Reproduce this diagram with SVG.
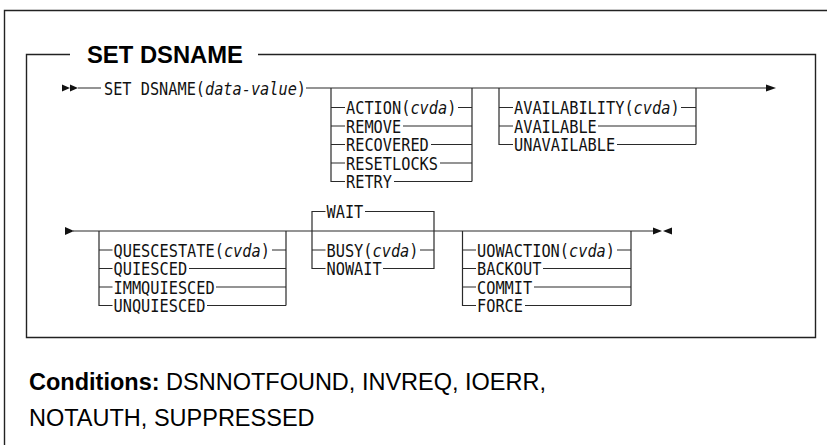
<svg xmlns="http://www.w3.org/2000/svg" width="827" height="445" viewBox="0 0 827 445">
<style>
.frame{fill:none;stroke:#222;stroke-width:1.4}
.ln{fill:none;stroke:#2a2a2a;stroke-width:1.2}
.rr{font-family:"DejaVu Sans Mono","Liberation Mono",monospace;font-size:17.5px;fill:#111}
.it{font-style:italic}
.ah{fill:#111}
.title{font-family:"Liberation Sans",Arial,sans-serif;font-weight:bold;font-size:23px;fill:#000}
.cond{font-family:"Liberation Sans",Arial,sans-serif;font-size:23.5px;fill:#000}
</style>
<rect width="827" height="445" fill="#fff"/>
<path class="frame" d="M4.5,445 V10.5 H827"/>
<g id="box">
<path class="frame" d="M70,54.5 H26.5 V337.5 H815.5 V54.5 H258"/>
<text class="title" x="87" y="63" textLength="156" lengthAdjust="spacingAndGlyphs">SET DSNAME</text>
</g>
<g id="connectors">
<polygon class="ah" points="62,84.5 70,88 62,91.5"/>
<polygon class="ah" points="70,84.5 78,88 70,91.5"/>
<path class="ln" d="M78,88 H101 M306,88 H767"/>
<polygon class="ah" points="766,84.5 776,88 766,91.5"/>
<polygon class="ah" points="65,227 74,231 65,235"/>
<path class="ln" d="M73,231 H653"/>
<polygon class="ah" points="653,227.5 662,231 653,234.5"/>
<polygon class="ah" points="672,227.5 663,231 672,234.5"/>
</g>
<g id="set">
<text class="rr" x="104" y="94.5" textLength="202" lengthAdjust="spacingAndGlyphs">SET DSNAME(<tspan class="it">data-value</tspan>)</text>
</g>
<g id="action">
<path class="ln" d="M331,88 V181.5 H345 M331,107.5 H345 M331,126 H345 M331,144.5 H345 M331,163 H345 M472,88 V181.5 M458,107.5 H472 M403,126 H472 M431,144.5 H472 M440,163 H472 M394,181.5 H472"/>
<text class="rr" x="346" y="114" textLength="110.4" lengthAdjust="spacingAndGlyphs">ACTION(<tspan class="it">cvda</tspan>)</text>
<text class="rr" x="346" y="132.5" textLength="55.2" lengthAdjust="spacingAndGlyphs">REMOVE</text>
<text class="rr" x="346" y="151" textLength="82.8" lengthAdjust="spacingAndGlyphs">RECOVERED</text>
<text class="rr" x="346" y="169.5" textLength="92" lengthAdjust="spacingAndGlyphs">RESETLOCKS</text>
<text class="rr" x="346" y="188" textLength="46" lengthAdjust="spacingAndGlyphs">RETRY</text>
</g>
<g id="availability">
<path class="ln" d="M499,88 V144.5 H513 M499,107.5 H513 M499,126 H513 M696,88 V144.5 M681,107.5 H696 M598,126 H696 M617,144.5 H696"/>
<text class="rr" x="514" y="114" textLength="165.6" lengthAdjust="spacingAndGlyphs">AVAILABILITY(<tspan class="it">cvda</tspan>)</text>
<text class="rr" x="514" y="132.5" textLength="82.8" lengthAdjust="spacingAndGlyphs">AVAILABLE</text>
<text class="rr" x="514" y="151" textLength="101.2" lengthAdjust="spacingAndGlyphs">UNAVAILABLE</text>
</g>
<g id="quiesce">
<path class="ln" d="M99,231 V305.5 H112.5 M99,250 H112.5 M99,268.5 H112.5 M99,287 H112.5 M286,231 V305.5 M272,250 H286 M189,268.5 H286 M216,287 H286 M207,305.5 H286"/>
<text class="rr" x="113.5" y="256.5" textLength="156.4" lengthAdjust="spacingAndGlyphs">QUESCESTATE(<tspan class="it">cvda</tspan>)</text>
<text class="rr" x="113.5" y="275" textLength="73.6" lengthAdjust="spacingAndGlyphs">QUIESCED</text>
<text class="rr" x="113.5" y="293.5" textLength="101.2" lengthAdjust="spacingAndGlyphs">IMMQUIESCED</text>
<text class="rr" x="113.5" y="312" textLength="92" lengthAdjust="spacingAndGlyphs">UNQUIESCED</text>
</g>
<g id="wait">
<path class="ln" d="M325.5,211.5 H312 V268.5 H325.5 M312,250 H325.5 M365,211.5 H434 V268.5 H383 M420,250 H434"/>
<text class="rr" x="326.5" y="218" textLength="36.8" lengthAdjust="spacingAndGlyphs">WAIT</text>
<text class="rr" x="326.5" y="256.5" textLength="92" lengthAdjust="spacingAndGlyphs">BUSY(<tspan class="it">cvda</tspan>)</text>
<text class="rr" x="326.5" y="275" textLength="55.2" lengthAdjust="spacingAndGlyphs">NOWAIT</text>
</g>
<g id="uowaction">
<path class="ln" d="M462.5,231 V305.5 H476 M462.5,250 H476 M462.5,268.5 H476 M462.5,287 H476 M631,231 V305.5 M617,250 H631 M543,268.5 H631 M534,287 H631 M525,305.5 H631"/>
<text class="rr" x="477" y="256.5" textLength="138" lengthAdjust="spacingAndGlyphs">UOWACTION(<tspan class="it">cvda</tspan>)</text>
<text class="rr" x="477" y="275" textLength="64.4" lengthAdjust="spacingAndGlyphs">BACKOUT</text>
<text class="rr" x="477" y="293.5" textLength="55.2" lengthAdjust="spacingAndGlyphs">COMMIT</text>
<text class="rr" x="477" y="312" textLength="46" lengthAdjust="spacingAndGlyphs">FORCE</text>
</g>
<g id="conditions">
<text class="cond" x="29" y="390"><tspan font-weight="bold">Conditions:</tspan> DSNNOTFOUND, INVREQ, IOERR,</text>
<text class="cond" x="29" y="426">NOTAUTH, SUPPRESSED</text>
</g>
</svg>
